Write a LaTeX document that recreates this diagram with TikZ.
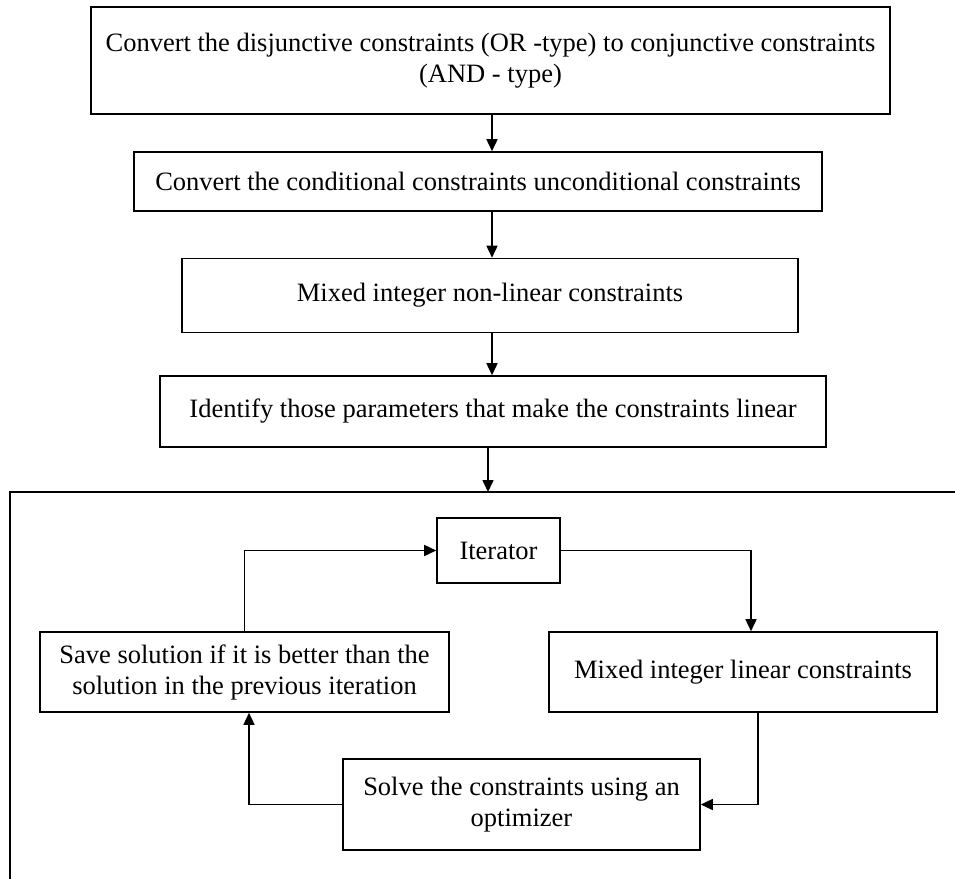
\documentclass[tikz,border=0pt]{standalone}
\usepackage{fontspec}
\setmainfont{Liberation Serif}
\usetikzlibrary{arrows.meta}
\begin{document}
\begin{tikzpicture}[x=1pt, y=-1pt, line width=1.6pt, >={Triangle[length=12pt,width=11pt]},
	stage/.style={rectangle, draw=black, inner sep=0pt, align=center, font=\fontsize{26.5}{31}\selectfont}]

		\useasboundingbox (0,0) rectangle (955,878);

		\node(conv)[stage, minimum width=799pt, minimum height=107pt] at (490.5,60.5) {Convert the disjunctive constraints (OR -type) to conjunctive constraints\\(AND - type)};
		\node(cond)[stage, minimum width=688pt, minimum height=59pt] at (478,181.5) {Convert the conditional constraints unconditional constraints};
		\node(minlp)[stage, minimum width=616pt, minimum height=74pt] at (490,295.5) {Mixed integer non-linear constraints};
		\node(ident)[stage, minimum width=666pt, minimum height=71pt] at (493,411.5) {Identify those parameters that make the constraints linear};

		\node(iter)[stage, minimum width=123pt, minimum height=65pt] at (498.5,550.5) {Iterator};
		\node(save)[stage, minimum width=409pt, minimum height=80pt] at (244.5,672) {Save solution if it is better than the\\solution in the previous iteration};
		\node(milp)[stage, minimum width=388pt, minimum height=80pt] at (743,672) {Mixed integer linear constraints};
		\node(solve)[stage, minimum width=357pt, minimum height=91pt] at (521.5,804.5) {Solve the constraints using an\\optimizer};

		\draw (962,492) -- (10,492) -- (10,885);
		\coordinate (frametop) at (488,492);
		\coordinate (spine) at (492,0);

		\draw[->] (conv.south -| spine) -- (cond.north -| spine);
		\draw[->] (cond.south -| spine) -- (minlp.north -| spine);
		\draw[->] (minlp.south -| spine) -- (ident.north -| spine);
		\draw[->] (ident.south -| frametop) -- (frametop);

		\draw[->] (save.north) |- (iter.west);
		\draw[->] (iter.east) -| ([xshift=8pt]milp.north);
		\draw[->] ([xshift=15pt]milp.south) |- (solve.east);
		\draw[->] (solve.west) -| ([xshift=4.5pt]save.south);
	\end{tikzpicture}
\end{document}
